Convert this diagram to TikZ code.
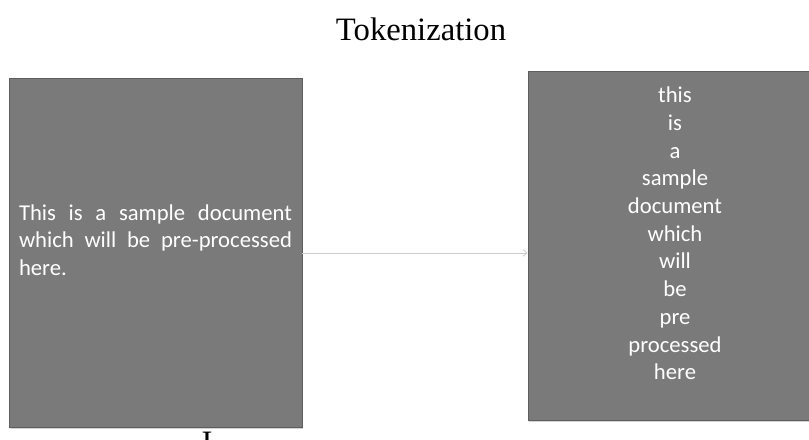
\documentclass[tikz,border=0pt]{standalone}
\usepackage{fontspec}
\setmainfont{Liberation Serif}
\newfontfamily\carlito{Carlito}
\usetikzlibrary{arrows.meta,shadows}
\definecolor{boxgray}{HTML}{7A7A7A}
\definecolor{boxedge}{HTML}{5E5E5E}
\definecolor{arrowgray}{HTML}{CDCDCD}
\tikzset{
  docbox/.style = {
    draw=boxedge, fill=boxgray, line width=0.6pt,
    minimum width=#1, minimum height=262pt, inner sep=0pt,
    drop shadow={shadow xshift=0.8pt, shadow yshift=-0.8pt, opacity=0.35}
  },
  boxtext/.style = {
    text=white, inner sep=0pt,
    font=\carlito\fontsize{17}{20.8}\selectfont
  },
  >={Straight Barb[length=3pt,width=5pt]}
}

\begin{document}
\begin{tikzpicture}[x=0.75pt,y=-0.75pt]
  \useasboundingbox (0,0) rectangle (809,439);
  \clip (0,0) rectangle (809,439);
  \node[font=\fontsize{24.5}{28}\selectfont,anchor=base] (title) at (421,40) {Tokenization};
  % input document and its tokens
  \node[docbox=219.75pt] (doc) at (155.5,253) {};
  \node[boxtext,text width=204.75pt,align=justify] (doctext) at ([yshift=9.75pt]doc.center)
    {\hyphenpenalty=10000 This is a sample document which will be pre-processed here.};
  \node[docbox=220.5pt] (tok) at (675,246) {};
  \node[boxtext,align=center] (toktext) at ([yshift=9.4pt]tok.center)
    {this\\is\\a\\sample\\document\\which\\will\\be\\pre\\processed\\here};
  \draw[->,arrowgray,line width=0.6pt] (doc.east) -- (doc.east -| tok.west);
  \node[font=\fontsize{24.5}{28}\selectfont,anchor=north,inner sep=0pt] (cut) at (207,432) {I};
\end{tikzpicture}
\end{document}
